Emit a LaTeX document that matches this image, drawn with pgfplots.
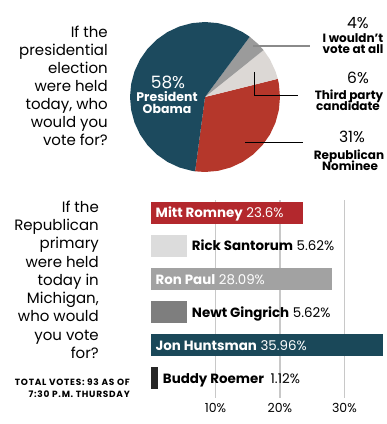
\documentclass[border=0pt]{standalone}
\usepackage{pgfplots}
\pgfplotsset{compat=1.18}
\usepackage{fontspec}
\setmainfont{Poppins}
\definecolor{obama}{HTML}{1C4A5E}
\definecolor{repred}{HTML}{B5372B}
\definecolor{pielight}{HTML}{DCD8D5}
\definecolor{piedark}{HTML}{9B9B9B}
\definecolor{romney}{HTML}{B3282D}
\definecolor{santorum}{HTML}{DCDCDC}
\definecolor{ronpaul}{HTML}{A2A2A2}
\definecolor{gingrich}{HTML}{7E7E7E}
\definecolor{huntsman}{HTML}{1A4859}
\definecolor{roemer}{HTML}{262626}
\definecolor{gridc}{HTML}{C8C8C8}
\definecolor{leadgray}{HTML}{8A8A8A}
\begin{document}
\begin{tikzpicture}[x=1pt,y=1pt]
\useasboundingbox (0,0) rectangle (387,424);
% ---------------- pie ----------------
\begin{axis}[at={(130pt,252pt)}, anchor=south west, width=150pt, height=150pt,
  scale only axis, xmin=-75, xmax=75, ymin=-75, ymax=75, hide axis, clip=false]
\addplot[fill=repred, draw=none, data cs=polar] coordinates {(0,0) (-97.6,75) (-90,75) (-80,75) (-70,75) (-60,75) (-50,75) (-40,75) (-30,75) (-20,75) (-10,75) (0,75) (10,75) (14,75)} -- cycle;
\addplot[fill=pielight, draw=none, data cs=polar] coordinates {(0,0) (14,75) (20,75) (30,75) (38.7,75)} -- cycle;
\addplot[fill=piedark, draw=none, data cs=polar] coordinates {(0,0) (38.7,75) (45,75) (53.4,75)} -- cycle;
\addplot[fill=obama, draw=none, data cs=polar] coordinates {(0,0) (53.4,75) (60,75) (70,75) (80,75) (90,75) (100,75) (110,75) (120,75) (130,75) (140,75) (150,75) (160,75) (170,75) (180,75) (190,75) (200,75) (210,75) (220,75) (230,75) (240,75) (250,75) (260,75) (262.4,75)} -- cycle;
\end{axis}
% pie question
\foreach \t [count=\i] in {If the, presidential, election, were held, {today, who}, would you, vote for?}
  \node[anchor=base east, inner sep=0pt, font=\fontsize{15}{18}\selectfont] at (108, 424-37.5-18*\i+18) {\t};
% inside pie label
\node[anchor=base, inner sep=0pt, text=white, font=\fontsize{17}{17}\selectfont] at (168, 424-88.3) {58\%};
\node[anchor=base, inner sep=0pt, text=white, font=\bfseries\fontsize{12.5}{12.5}\selectfont] at (167, 424-101.7) {President};
\node[anchor=base, inner sep=0pt, text=white, font=\bfseries\fontsize{12.5}{12.5}\selectfont] at (167, 424-113.3) {Obama};
% leader lines
\draw[leadgray, line width=1.3pt] (253, 424-46) -- (310, 424-46);
\draw[black, line width=1pt] (254, 424-72) -- (254, 424-96) -- (298, 424-96);
\draw[black, line width=1pt] (245, 424-143) -- (303, 424-143);
% right annotations
\node[anchor=base, inner sep=0pt, font=\fontsize{15.5}{15.5}\selectfont] at (358, 424-28.3) {4\%};
\node[anchor=base, inner sep=0pt, font=\bfseries\fontsize{12}{12}\selectfont] at (353, 424-42.3) {I wouldn’t};
\node[anchor=base, inner sep=0pt, font=\bfseries\fontsize{12}{12}\selectfont] at (353, 424-54) {vote at all};
\node[anchor=base, inner sep=0pt, font=\fontsize{15.5}{15.5}\selectfont] at (358, 424-84) {6\%};
\node[anchor=base, inner sep=0pt, font=\bfseries\fontsize{12}{12}\selectfont] at (349, 424-100) {Third party};
\node[anchor=base, inner sep=0pt, font=\bfseries\fontsize{12}{12}\selectfont] at (348, 424-111) {candidate};
\node[anchor=base, inner sep=0pt, font=\fontsize{15.5}{15.5}\selectfont] at (352, 424-142.7) {31\%};
\node[anchor=base, inner sep=0pt, font=\bfseries\fontsize{12}{12}\selectfont] at (349, 424-159.3) {Republican};
\node[anchor=base, inner sep=0pt, font=\bfseries\fontsize{12}{12}\selectfont] at (350, 424-170.7) {Nominee};
% ---------------- bars ----------------
\begin{axis}[at={(151pt,25.7pt)}, anchor=south west, width=236pt, height=198.3pt,
  scale only axis, xmin=0, xmax=36.6, ymin=-0.4, ymax=5.6, y dir=reverse,
  axis line style={draw=none}, xtick={10,20,30}, xticklabels={10\%,20\%,30\%},
  ytick=\empty, major tick length=0pt, xmajorgrids, grid style={draw=gridc, line width=1.5pt},
  xticklabel style={font=\fontsize{12.5}{12.5}\selectfont, yshift=-1pt},
  xbar, bar width=22pt, bar shift=0pt, clip=false]
\addplot[fill=romney, draw=none, bar shift=0pt] coordinates {(23.6,0)};
\addplot[fill=santorum, draw=none, bar shift=0pt] coordinates {(5.62,1)};
\addplot[fill=ronpaul, draw=none, bar shift=0pt] coordinates {(28.09,2)};
\addplot[fill=gingrich, draw=none, bar shift=0pt] coordinates {(5.62,3)};
\addplot[fill=huntsman, draw=none, bar shift=0pt] coordinates {(35.96,4)};
\addplot[fill=roemer, draw=none, bar shift=0pt] coordinates {(1.12,5)};
\node[anchor=base west, inner sep=0pt, text=white, font=\fontsize{13.4}{13.4}\selectfont, xshift=4.5pt, yshift=-4.7pt] at (axis cs:0,0) {\textbf{Mitt Romney} 23.6\%};
\node[anchor=base west, inner sep=0pt, text=black, font=\fontsize{13.4}{13.4}\selectfont, xshift=4.5pt, yshift=-4.7pt] at (axis cs:5.62,1) {\textbf{Rick Santorum} 5.62\%};
\node[anchor=base west, inner sep=0pt, text=white, font=\fontsize{13.4}{13.4}\selectfont, xshift=4.5pt, yshift=-4.7pt] at (axis cs:0,2) {\textbf{Ron Paul} 28.09\%};
\node[anchor=base west, inner sep=0pt, text=black, font=\fontsize{13.4}{13.4}\selectfont, xshift=4.5pt, yshift=-4.7pt] at (axis cs:5.62,3) {\textbf{Newt Gingrich} 5.62\%};
\node[anchor=base west, inner sep=0pt, text=white, font=\fontsize{13.4}{13.4}\selectfont, xshift=4.5pt, yshift=-4.7pt] at (axis cs:0,4) {\textbf{Jon Huntsman} 35.96\%};
\node[anchor=base west, inner sep=0pt, text=black, font=\fontsize{13.4}{13.4}\selectfont, xshift=4.5pt, yshift=-4.7pt] at (axis cs:1.12,5) {\textbf{Buddy Roemer}\enspace 1.12\%};
\end{axis}
% bar question
\foreach \t [count=\i] in {If the, Republican, primary, were held, today in, {Michigan,}, who would, you vote, for?}
  \node[anchor=base east, inner sep=0pt, font=\fontsize{15}{18}\selectfont] at (99, 424-212.5-18.25*\i+18.25) {\t};
\node[anchor=base east, inner sep=0pt, font=\bfseries\fontsize{9}{9}\selectfont\addfontfeatures{LetterSpace=8}] at (130, 424-386) {TOTAL VOTES: 93 AS OF};
\node[anchor=base east, inner sep=0pt, font=\bfseries\fontsize{9}{9}\selectfont\addfontfeatures{LetterSpace=8}] at (130, 424-397.5) {7:30 P.M. THURSDAY};
\end{tikzpicture}
\end{document}
